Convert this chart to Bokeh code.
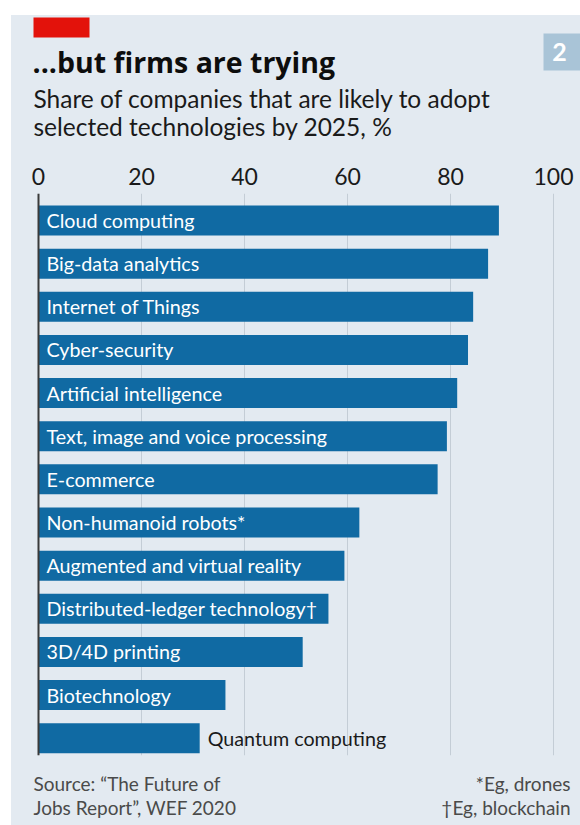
from bokeh.plotting import figure
from bokeh.layouts import column
from bokeh.models import Range1d, FixedTicker, Span, Label, ColumnDataSource
from bokeh.core.properties import value
from bokeh.embed import file_html
from bokeh.resources import INLINE

# ---- data ----
categories = [
    "Cloud computing",
    "Big-data analytics",
    "Internet of Things",
    "Cyber-security",
    "Artificial intelligence",
    "Text, image and voice processing",
    "E-commerce",
    "Non-humanoid robots*",
    "Augmented and virtual reality",
    "Distributed-ledger technology\u2020",
    "3D/4D printing",
    "Biotechnology",
    "Quantum computing",
]
values = [89.4, 87.3, 84.4, 83.4, 81.3, 79.3, 77.5, 62.3, 59.4, 56.3, 51.3, 36.3, 31.3]
label_outside = [False, False, False, False, False, False, False,
                 False, False, False, False, False, True]
ticks = [0, 20, 40, 60, 80, 100]
tick_labels = {0: "0", 20: "20", 40: "40", 60: "60", 80: "80", 100: "100"}

title_text = "...but firms are trying"
subtitle_lines = ["Share of companies that are likely to adopt",
                  "selected technologies by 2025, %"]
source_lines = ["Source: \u201cThe Future of", "Jobs Report\u201d, WEF 2020"]
note_lines = ["*Eg, drones", "\u2020Eg, blockchain"]
chart_number = "2"

# ---- styles ----
BG = "#e3eaf1"
BLUE = "#106aa3"
RED = "#e3120b"
BOX = "#a9c4d7"
FONT = "Lato"
TITLE_FONT = "Open Sans"

X0, X1 = 11, 580          # page x extent of the panel
Y0 = 15                   # page y of panel top
HEAD_B = 160              # header / chart boundary (page y)
CHART_B = 760             # chart / footer boundary (page y)
Y1 = 825                  # page bottom
FL, FR, FT, FB = 38, 553, 193, 755   # where 0..100 and the bar area sit (page px)
Y_TOP, Y_BOT = -0.626, 12.401
W = X1 - X0
MID = 0.387               # baseline lies this many ems below "middle"


def dx(px):
    return (px - FL) / (FR - FL) * 100.0


def panel_fig(top, bottom):
    f = figure(width=W, height=bottom - top, output_backend="svg",
               toolbar_location=None, title=None,
               x_range=Range1d(X0, X1), y_range=Range1d(bottom, top),
               x_axis_type=None, y_axis_type=None)
    f.min_border = 0
    f.min_border_left = 0
    f.min_border_right = 0
    f.min_border_top = 0
    f.min_border_bottom = 0
    f.background_fill_color = BG
    f.border_fill_color = BG
    f.outline_line_color = None
    f.xgrid.visible = False
    f.ygrid.visible = False
    return f


def text_label(fig, x, baseline, text, size, color, align="left", font=FONT, style="normal"):
    fig.add_layout(Label(x=x, y=baseline - MID * size, text=text, text_color=color,
                         text_font=font, text_font_style=style,
                         text_font_size=f"{size}px", text_align=align,
                         text_baseline="middle"))


# ---- header ----
head = panel_fig(Y0, HEAD_B)
head.quad(left=[33], right=[89], top=[17], bottom=[37], fill_color=RED, line_color=None)
head.quad(left=[543], right=[581], top=[33], bottom=[70], fill_color=BOX, line_color=None)
text_label(head, 559, 61, chart_number, 25, "white", align="center", style="bold")
text_label(head, 32, 73, title_text, 28.5, "#0d0d0d", font=TITLE_FONT, style="bold")
for i, line in enumerate(subtitle_lines):
    text_label(head, 33, 107.5 + 28 * i, line, 24.5, "#1a1a1a")

# ---- chart ----
p = figure(width=W, height=CHART_B - HEAD_B, output_backend="svg", toolbar_location=None,
           title=None, x_range=Range1d(dx(X0), dx(X1)), y_range=Range1d(Y_BOT, Y_TOP),
           x_axis_location="above", y_axis_type=None)
p.min_border_left = 0
p.min_border_right = 0
p.min_border_top = FT - HEAD_B
p.min_border_bottom = CHART_B - FB
p.background_fill_color = BG
p.border_fill_color = BG
p.outline_line_color = None

ax = p.xaxis[0]
ax.ticker = FixedTicker(ticks=ticks)
ax.major_label_overrides = tick_labels
ax.axis_line_color = None
ax.major_tick_line_color = None
ax.minor_tick_line_color = None
ax.major_label_text_font = FONT
ax.major_label_text_font_size = "23px"
ax.major_label_text_color = "#1a1a1a"
ax.major_label_standoff = 3

p.xgrid.ticker = FixedTicker(ticks=ticks)
p.xgrid.grid_line_color = "#c4cdd6"
p.xgrid.grid_line_width = 1

ys = list(range(len(categories)))
src = ColumnDataSource(dict(
    y=ys,
    value=values,
    name=categories,
    lx=[v if o else 0 for v, o in zip(values, label_outside)],
    tc=["#1a1a1a" if o else "white" for o in label_outside],
))

p.hbar(y="y", left=0, right="value", height=0.695, source=src,
       fill_color=BLUE, line_color=None)
p.text(x="lx", y="y", text="name", source=src, text_color="tc",
       x_offset=8, text_align="left", text_baseline="middle",
       text_font=value(FONT), text_font_size=value("19.7px"))

p.add_layout(Span(location=0, dimension="height", line_color="#3a3a3a", line_width=2))

# ---- footer ----
foot = panel_fig(CHART_B, Y1)
for i, line in enumerate(source_lines):
    text_label(foot, 33, 790 + 24.5 * i, line, 19, "#4a4a4a")
for i, line in enumerate(note_lines):
    text_label(foot, 570, 790 + 24.5 * i, line, 19, "#4a4a4a", align="right")

layout = column(head, p, foot, spacing=0)
layout.margin = (Y0, 0, 0, X0)
layout.styles = {"background-color": BG}

open("out.html", "w").write(file_html(layout, INLINE))
